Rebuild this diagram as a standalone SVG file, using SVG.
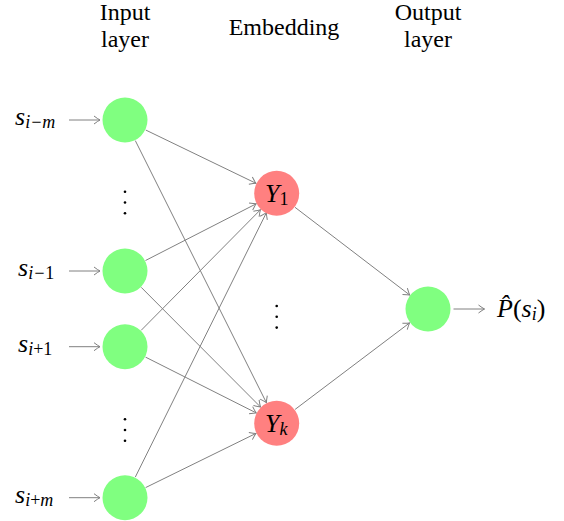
<svg xmlns="http://www.w3.org/2000/svg" width="564" height="521" viewBox="0 0 564 521">
  <style>
    text { fill: #000; }
    .hdr { font-family: "Times New Roman", "Liberation Serif", serif; font-size: 24px; text-anchor: middle; }
    .math { font-family: "Liberation Serif", serif; font-size: 26px; font-style: italic; }
    .sub { font-size: 18px; }
    .up { font-style: normal; }
    .in { fill: #80ff80; }
    .emb { fill: #ff8080; }
    .edge { stroke: #808080; stroke-width: 1; fill: none; marker-end: url(#tip); }
    .dot { fill: #000; }
  </style>
  <defs>
    <marker id="tip" markerUnits="userSpaceOnUse" viewBox="-8 -5 10 10" refX="0" refY="0" markerWidth="10" markerHeight="10" orient="auto">
      <path d="M -6,-4 Q -2,-1 0,0 Q -2,1 -6,4" fill="none" stroke="#808080" stroke-width="1"/>
    </marker>
  </defs>

  <!-- column headings -->
  <g id="headings">
    <text class="hdr" x="125" y="20">Input</text>
    <text class="hdr" x="125" y="47">layer</text>
    <text class="hdr" x="284" y="35">Embedding</text>
    <text class="hdr" x="428" y="20">Output</text>
    <text class="hdr" x="428" y="47">layer</text>
  </g>

  <!-- connectors -->
  <g id="connectors">
    <line class="edge" x1="69" y1="120" x2="100" y2="120"/>
    <line class="edge" x1="69" y1="271" x2="100" y2="271"/>
    <line class="edge" x1="69" y1="346.7" x2="100" y2="346.7"/>
    <line class="edge" x1="69" y1="497.7" x2="100" y2="497.7"/>

    <line class="edge" x1="145.7" y1="130.0" x2="256.0" y2="183.3"/>
    <line class="edge" x1="135.3" y1="140.6" x2="266.4" y2="402.7"/>
    <line class="edge" x1="145.5" y1="260.5" x2="256.2" y2="203.8"/>
    <line class="edge" x1="141.2" y1="287.3" x2="260.5" y2="407.0"/>
    <line class="edge" x1="141.2" y1="330.3" x2="260.5" y2="209.7"/>
    <line class="edge" x1="145.5" y1="357.1" x2="256.2" y2="412.9"/>
    <line class="edge" x1="135.3" y1="477.1" x2="266.4" y2="212.7"/>
    <line class="edge" x1="145.6" y1="487.6" x2="256.0" y2="433.4"/>

    <line class="edge" x1="295.0" y1="207.3" x2="409.7" y2="295.0"/>
    <line class="edge" x1="295.1" y1="409.4" x2="409.6" y2="322.9"/>

    <line class="edge" x1="453.5" y1="309" x2="484.5" y2="309"/>
  </g>

  <!-- input layer -->
  <g id="in-m">
    <circle class="in" cx="125" cy="120" r="22.5"/>
    <text class="math" x="15" y="125">s<tspan class="sub" dy="3">i−m</tspan></text>
  </g>
  <g id="in-dots-top">
    <circle class="dot" cx="125" cy="191.7" r="1.3"/>
    <circle class="dot" cx="125" cy="202.5" r="1.3"/>
    <circle class="dot" cx="125" cy="213.3" r="1.3"/>
  </g>
  <g id="in-minus1">
    <circle class="in" cx="125" cy="271" r="22.5"/>
    <text class="math" x="18" y="276">s<tspan class="sub" dy="3">i−<tspan class="up">1</tspan></tspan></text>
  </g>
  <g id="in-plus1">
    <circle class="in" cx="125" cy="346.7" r="22.5"/>
    <text class="math" x="18" y="351.7">s<tspan class="sub" dy="3">i<tspan class="up">+1</tspan></tspan></text>
  </g>
  <g id="in-dots-bottom">
    <circle class="dot" cx="125" cy="419.3" r="1.3"/>
    <circle class="dot" cx="125" cy="430" r="1.3"/>
    <circle class="dot" cx="125" cy="440.7" r="1.3"/>
  </g>
  <g id="in-m-plus">
    <circle class="in" cx="125" cy="497.7" r="22.5"/>
    <text class="math" x="15" y="503">s<tspan class="sub" dy="3">i<tspan class="up">+</tspan>m</tspan></text>
  </g>

  <!-- embedding layer -->
  <g id="emb-1">
    <circle class="emb" cx="276.7" cy="193.3" r="22.5"/>
    <text class="math" x="265" y="201.5">Y<tspan class="sub up" dy="3">1</tspan></text>
  </g>
  <g id="emb-dots">
    <circle class="dot" cx="276.7" cy="306" r="1.3"/>
    <circle class="dot" cx="276.7" cy="316.8" r="1.3"/>
    <circle class="dot" cx="276.7" cy="327.6" r="1.3"/>
  </g>
  <g id="emb-k">
    <circle class="emb" cx="276.7" cy="423.3" r="22.5"/>
    <text class="math" x="265" y="431.5">Y<tspan class="sub" dy="3">k</tspan></text>
  </g>

  <!-- output layer -->
  <g id="out">
    <circle class="in" cx="428" cy="309" r="22.5"/>
    <text class="math" x="497" y="317">P̂<tspan class="up">(</tspan>s<tspan class="sub" dy="3">i</tspan><tspan class="up" dy="-3">)</tspan></text>
  </g>
</svg>
